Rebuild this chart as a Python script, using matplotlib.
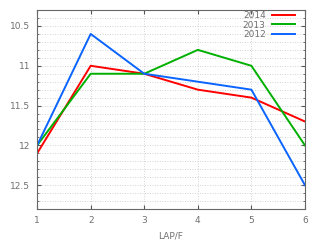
import matplotlib
matplotlib.use('Agg')
import matplotlib.pyplot as plt
from matplotlib.ticker import MultipleLocator

# Lap data
laps = [1, 2, 3, 4, 5, 6]
y2014 = [12.1, 11.0, 11.1, 11.3, 11.4, 11.7]
y2013 = [12.0, 11.1, 11.1, 10.8, 11.0, 12.0]
y2012 = [12.0, 10.6, 11.1, 11.2, 11.3, 12.5]
y_ticks = [10.5, 11, 11.5, 12, 12.5]
y_labels = ['10.5', '11', '11.5', '12', '12.5']

fig = plt.figure(figsize=(3.2, 2.4), dpi=100)
ax = fig.add_axes([0.116, 0.129, 0.837, 0.829])

ax.plot(laps, y2014, color='#ff0000', lw=1.4, label='2014')
ax.plot(laps, y2013, color='#00b000', lw=1.4, label='2013')
ax.plot(laps, y2012, color='#0a64ff', lw=1.4, label='2012')

ax.set_xlim(1, 6)
ax.set_ylim(12.8, 10.3)
ax.set_xticks(laps)
ax.set_yticks(y_ticks)
ax.set_yticklabels(y_labels)
ax.yaxis.set_minor_locator(MultipleLocator(0.1))

# dotted gnuplot-like grid
ax.grid(True, which='major', color='#c4c4c4', linestyle=(0, (1, 2)), linewidth=0.6)
ax.grid(True, which='minor', axis='y', color='#c4c4c4', linestyle=(0, (1, 2)), linewidth=0.6)

ax.tick_params(which='both', direction='in', top=True, right=True,
               labelsize=6.5, labelcolor='#707070', color='#555555', pad=5)
ax.tick_params(which='major', length=3)
ax.tick_params(which='minor', length=1.5)
for s in ax.spines.values():
    s.set_color('#666666')
    s.set_linewidth(0.8)

ax.set_xlabel('LAP/F', fontsize=6.5, color='#707070', labelpad=5)

leg = ax.legend(loc='upper right', bbox_to_anchor=(0.963, 0.995), fontsize=6.5,
                frameon=False, markerfirst=False, handlelength=2.5,
                handletextpad=0.75, labelspacing=0.05, borderpad=0,
                borderaxespad=0)
for t in leg.get_texts():
    t.set_color('#707070')

fig.savefig('out.png', dpi=100)
